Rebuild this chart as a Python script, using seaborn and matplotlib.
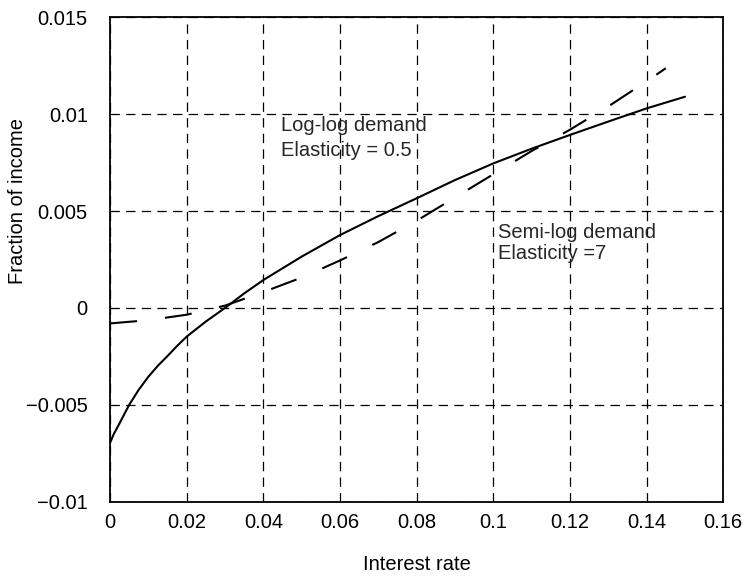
import matplotlib
matplotlib.use("Agg")
import matplotlib.pyplot as plt
import pandas as pd
import seaborn as sns

# Log-log demand curve: fraction of income vs interest rate
loglog_rate = [0.0, 0.001, 0.0025, 0.005, 0.0075, 0.01, 0.0125, 0.015, 0.0175, 0.02,
               0.025, 0.03, 0.035, 0.04, 0.05, 0.06, 0.07, 0.08, 0.09, 0.10,
               0.11, 0.12, 0.13, 0.14, 0.15]
loglog_frac = [-0.00697, -0.00650, -0.00595, -0.00500, -0.00422, -0.00355, -0.00298,
               -0.00248, -0.00196, -0.00148, -0.00070, 0.0000, 0.00075, 0.00144,
               0.00265, 0.00376, 0.00474, 0.00566, 0.00660, 0.00746, 0.00822,
               0.00893, 0.00962, 0.01030, 0.01090]

# Semi-log demand curve
semilog_rate = [0.0, 0.01, 0.02, 0.03, 0.04, 0.05, 0.06, 0.07, 0.08, 0.09,
                0.10, 0.11, 0.12, 0.13, 0.14, 0.145]
semilog_frac = [-0.00080, -0.00063, -0.00035, 0.00012, 0.00082, 0.00157, 0.00245,
                0.00340, 0.00450, 0.00570, 0.00690, 0.00810, 0.00920, 0.01040,
                0.01170, 0.01237]

x_ticks = [0, 0.02, 0.04, 0.06, 0.08, 0.1, 0.12, 0.14, 0.16]
x_tick_labels = ["0", "0.02", "0.04", "0.06", "0.08", "0.1", "0.12", "0.14", "0.16"]
y_ticks = [-0.01, -0.005, 0, 0.005, 0.01, 0.015]
y_tick_labels = ["\u22120.01", "\u22120.005", "0", "0.005", "0.01", "0.015"]

sns.set_theme(style="white")
plt.rcParams["font.family"] = ["Liberation Sans", "DejaVu Sans"]

loglog = pd.DataFrame({"rate": loglog_rate, "frac": loglog_frac})
semilog = pd.DataFrame({"rate": semilog_rate, "frac": semilog_frac})

fig = plt.figure(figsize=(7.51, 5.79), dpi=100)
ax = fig.add_axes([0.1465, 0.1335, 0.8166, 0.8366])

sns.lineplot(data=loglog, x="rate", y="frac", ax=ax, color="black",
             linewidth=1.5, sort=False)
sns.lineplot(data=semilog, x="rate", y="frac", ax=ax, color="black",
             linewidth=1.5, sort=False, dashes=False)
ax.lines[1].set_dashes((13, 13.5))

ax.set_xlim(0, 0.16)
ax.set_ylim(-0.01, 0.015)
ax.set_xticks(x_ticks)
ax.set_xticklabels(x_tick_labels)
ax.set_yticks(y_ticks)
ax.set_yticklabels(y_tick_labels)

ax.grid(True, color="black", linestyle=(0, (7.5, 5)), linewidth=0.9)
ax.set_axisbelow(True)

for side in ax.spines.values():
    side.set_color("black")
    side.set_linewidth(1.3)

ax.tick_params(axis="both", which="both", direction="in", length=3,
               color="black", labelsize=14.5, labelcolor="black")
ax.tick_params(axis="x", pad=8)
ax.tick_params(axis="y", pad=16)

ax.set_xlabel("Interest rate", fontsize=14.5, color="black", labelpad=17)
ax.set_ylabel("Fraction of income", fontsize=14.5, color="black")
ax.yaxis.set_label_coords(-0.136, 0.62)

ax.text(0.0445, 0.00944, "Log-log demand", fontsize=14.5, va="center", ha="left")
ax.text(0.0445, 0.00815, "Elasticity = 0.5", fontsize=14.5, va="center", ha="left")
ax.text(0.1013, 0.00388, "Semi-log demand", fontsize=14.5, va="center", ha="left")
ax.text(0.1013, 0.00282, "Elasticity =7", fontsize=14.5, va="center", ha="left")

fig.savefig("out.png", dpi=100)
